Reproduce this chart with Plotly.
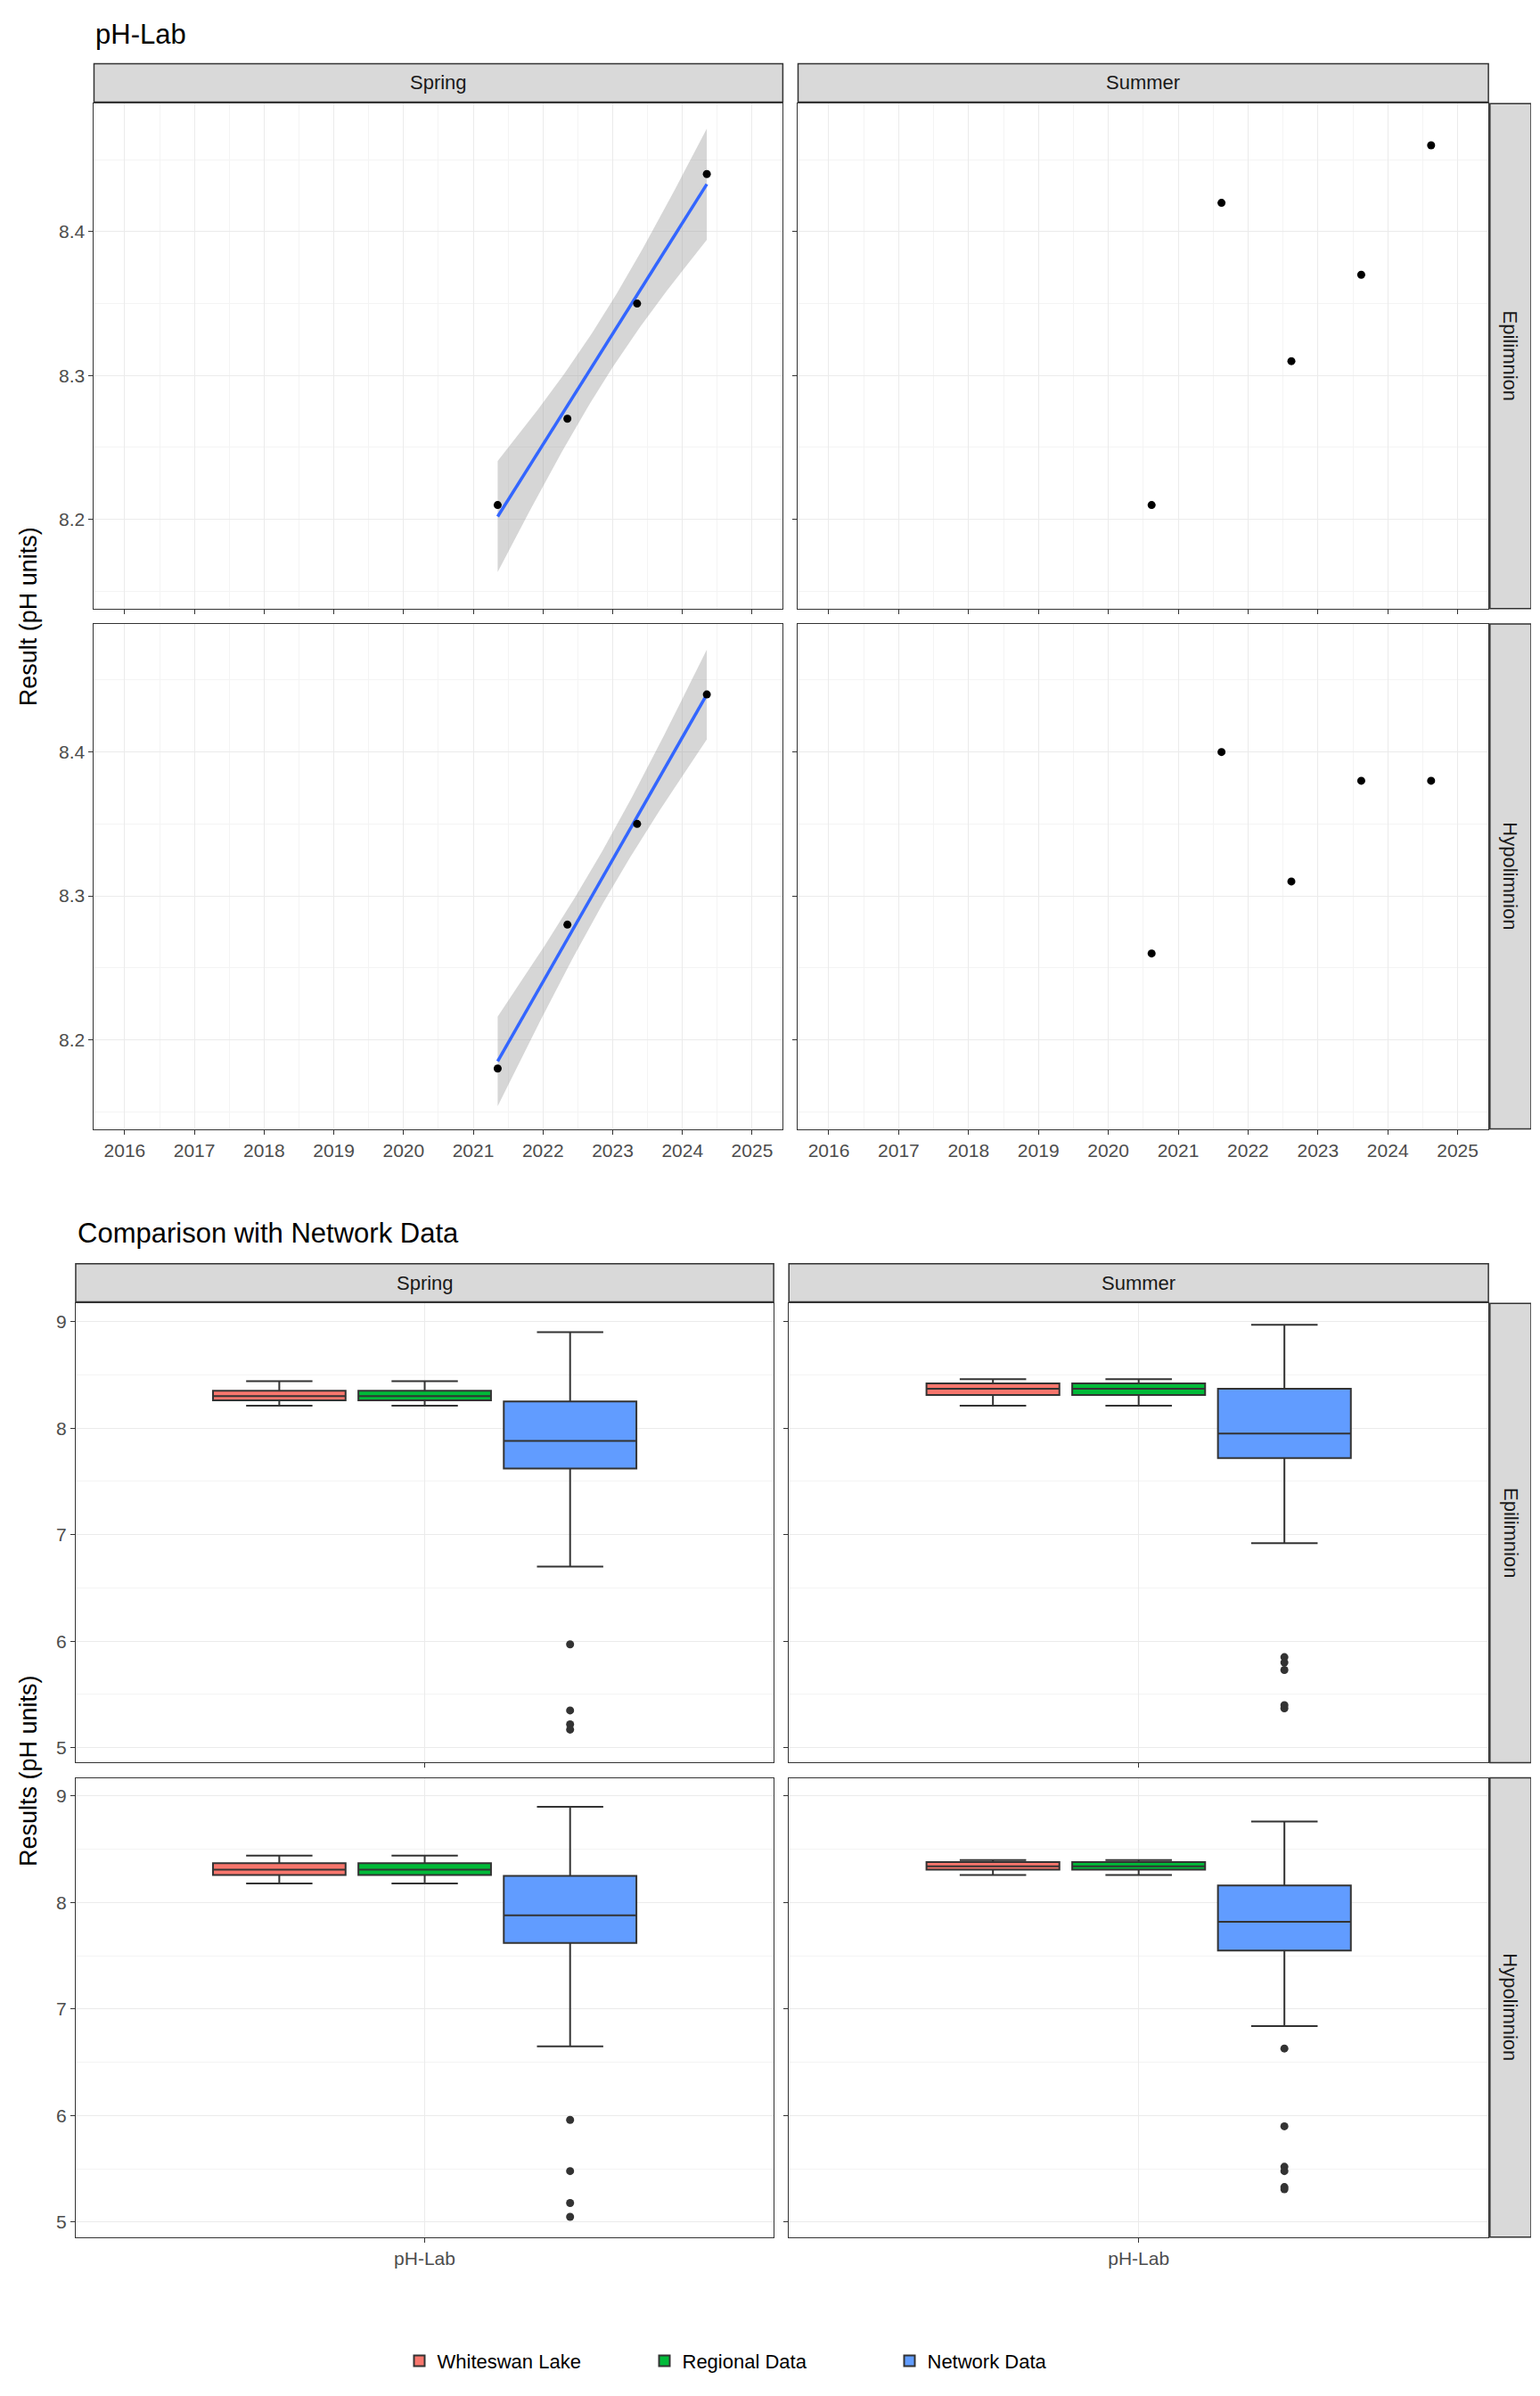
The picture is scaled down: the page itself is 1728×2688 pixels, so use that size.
import numpy as np
import plotly.graph_objects as go

# ---------------- data ----------------
spring_years = [2021.35, 2022.35, 2023.35, 2024.35]
summer_years = [2020.62, 2021.62, 2022.62, 2023.62, 2024.62]
spring_epi = [8.21, 8.27, 8.35, 8.44]
spring_hypo = [8.18, 8.28, 8.35, 8.44]
summer_epi = [8.21, 8.42, 8.31, 8.37, 8.46]
summer_hypo = [8.26, 8.40, 8.31, 8.38, 8.38]
year_ticks = list(range(2016, 2026))

groups = ["Whiteswan Lake", "Regional Data", "Network Data"]
group_colors = ["#F8766D", "#00BA38", "#619CFF"]
# box stats per panel: [lowerfence, q1, median, q3, upperfence] for each group
box_spring_epi = [[8.21, 8.26, 8.30, 8.35, 8.44], [8.21, 8.26, 8.30, 8.35, 8.44], [6.70, 7.62, 7.88, 8.25, 8.90]]
box_summer_epi = [[8.21, 8.31, 8.37, 8.42, 8.46], [8.21, 8.31, 8.37, 8.42, 8.46], [6.92, 7.72, 7.95, 8.37, 8.97]]
box_spring_hypo = [[8.18, 8.26, 8.31, 8.37, 8.44], [8.18, 8.26, 8.31, 8.37, 8.44], [6.65, 7.62, 7.88, 8.25, 8.90]]
box_summer_hypo = [[8.26, 8.31, 8.34, 8.38, 8.40], [8.26, 8.31, 8.34, 8.38, 8.40], [6.84, 7.55, 7.82, 8.16, 8.76]]
out_spring_epi = [5.97, 5.35, 5.22, 5.17]
out_summer_epi = [5.85, 5.80, 5.73, 5.40, 5.37]
out_spring_hypo = [5.96, 5.48, 5.18, 5.05]
out_summer_hypo = [6.63, 5.90, 5.52, 5.48, 5.33, 5.31]

T975_DF2 = 4.303

W, H = 1000.0, 1555.0
def xd(a, b): return [a / W, b / W]
def yd(a, b): return [1 - b / H, 1 - a / H]

fig = go.Figure()
FONT = "Liberation Sans, Arial, sans-serif"
GRID = "#EBEBEB"
LINE = "#333333"

# ---- top panels ----
top_cols = [(57, 509), (519, 972)]
top_rows = [(63, 393), (403, 733)]
top_data = [[(spring_years, spring_epi, True), (summer_years, summer_epi, False)],
            [(spring_years, spring_hypo, True), (summer_years, summer_hypo, False)]]
ax = 0
for r, (ya, yb) in enumerate(top_rows):
    for c, (xa, xb) in enumerate(top_cols):
        ax += 1
        xs, ys, fit = top_data[r][c]
        xn, yn = f"x{ax}", f"y{ax}"
        if fit:
            x = np.array(xs); y = np.array(ys)
            b, a = np.polyfit(x, y, 1)
            n = len(x); res = y - (a + b * x)
            s = np.sqrt((res ** 2).sum() / (n - 2))
            xg = np.linspace(x.min(), x.max(), 80)
            se = s * np.sqrt(1 / n + (xg - x.mean()) ** 2 / ((x - x.mean()) ** 2).sum())
            yf = a + b * xg
            fig.add_trace(go.Scatter(x=np.concatenate([xg, xg[::-1]]),
                                     y=np.concatenate([yf + T975_DF2 * se, (yf - T975_DF2 * se)[::-1]]),
                                     fill="toself", fillcolor="rgba(153,153,153,0.4)", line=dict(width=0),
                                     showlegend=False, hoverinfo="skip", xaxis=xn, yaxis=yn))
            fig.add_trace(go.Scatter(x=xg, y=yf, mode="lines", line=dict(color="#3366FF", width=3.5),
                                     showlegend=False, xaxis=xn, yaxis=yn))
        fig.add_trace(go.Scatter(x=xs, y=ys, mode="markers", marker=dict(color="black", size=9),
                                 showlegend=False, xaxis=xn, yaxis=yn))
        fig.layout[f"xaxis{ax}"] = dict(domain=xd(xa, xb), anchor=yn, range=[2015.56, 2025.44],
                                        tickvals=year_ticks, showticklabels=(r == 1),
                                        showgrid=True, gridcolor=GRID, minor=dict(dtick=0.5, showgrid=True, gridcolor="#F4F4F4"),
                                        showline=True, mirror=True, linecolor=LINE, ticks="outside", ticklen=5,
                                        tickcolor=LINE, zeroline=False, tickfont=dict(size=21, color="#4D4D4D"))
        fig.layout[f"yaxis{ax}"] = dict(domain=yd(ya, yb), anchor=xn, range=[8.138, 8.489],
                                        tickvals=[8.2, 8.3, 8.4], ticktext=["8.2", "8.3", "8.4"], showticklabels=(c == 0),
                                        showgrid=True, gridcolor=GRID, minor=dict(tickvals=[8.15, 8.25, 8.35, 8.45], showgrid=True, gridcolor="#F4F4F4"),
                                        showline=True, mirror=True, linecolor=LINE, ticks="outside", ticklen=5,
                                        tickcolor=LINE, zeroline=False, tickfont=dict(size=21, color="#4D4D4D"))

# ---- bottom panels ----
bot_cols = [(45, 503), (513, 972)]
bot_rows = [(847, 1147), (1157, 1457)]
bot_stats = [[(box_spring_epi, out_spring_epi), (box_summer_epi, out_summer_epi)],
             [(box_spring_hypo, out_spring_hypo), (box_summer_hypo, out_summer_hypo)]]
offsets = [-0.25, 0.0, 0.25]
for r, (ya, yb) in enumerate(bot_rows):
    for c, (xa, xb) in enumerate(bot_cols):
        ax += 1
        xn, yn = f"x{ax}", f"y{ax}"
        stats, outs = bot_stats[r][c]
        for g in range(3):
            lo, q1, md, q3, hi = stats[g]
            fig.add_trace(go.Box(x=[offsets[g]], q1=[q1], median=[md], q3=[q3], lowerfence=[lo], upperfence=[hi],
                                 width=0.228, fillcolor=group_colors[g], line=dict(color=LINE, width=2),
                                 name=groups[g], legendgroup=groups[g], showlegend=(ax == 5),
                                 boxpoints=False, xaxis=xn, yaxis=yn))
        fig.add_trace(go.Scatter(x=[offsets[2]] * len(outs), y=outs, mode="markers",
                                 marker=dict(color=LINE, size=9), showlegend=False, xaxis=xn, yaxis=yn))
        fig.layout[f"xaxis{ax}"] = dict(domain=xd(xa, xb), anchor=yn, range=[-0.6, 0.6],
                                        tickvals=[0], ticktext=["pH-Lab"], showticklabels=(r == 1),
                                        showgrid=True, gridcolor=GRID, showline=True, mirror=True, linecolor=LINE,
                                        ticks="outside", ticklen=5, tickcolor=LINE, zeroline=False,
                                        tickfont=dict(size=21, color="#4D4D4D"))
        fig.layout[f"yaxis{ax}"] = dict(domain=yd(ya, yb), anchor=xn, range=[4.86, 9.17],
                                        tickvals=[5, 6, 7, 8, 9], showticklabels=(c == 0),
                                        showgrid=True, gridcolor=GRID, minor=dict(tickvals=[5.5, 6.5, 7.5, 8.5], showgrid=True, gridcolor="#F4F4F4"),
                                        showline=True, mirror=True, linecolor=LINE, ticks="outside", ticklen=5,
                                        tickcolor=LINE, zeroline=False, tickfont=dict(size=21, color="#4D4D4D"))

# ---- strips ----
shapes, anns = [], []
def strip(x0, x1, y0, y1, text, angle=0):
    shapes.append(dict(type="rect", xref="paper", yref="paper", x0=x0 / W, x1=x1 / W, y0=1 - y1 / H, y1=1 - y0 / H,
                       fillcolor="#D9D9D9", line=dict(color=LINE, width=1.5), layer="below"))
    anns.append(dict(xref="paper", yref="paper", x=(x0 + x1) / 2 / W, y=1 - (y0 + y1) / 2 / H, text=text,
                     xanchor="center", yanchor="middle",
                     showarrow=False, textangle=angle, font=dict(size=22, color="#1A1A1A", family=FONT)))

for (xa, xb), t in zip(top_cols, ["Spring", "Summer"]):
    strip(xa, xb, 37, 62, t)
for (ya, yb), t in zip(top_rows, ["Epilimnion", "Hypolimnion"]):
    strip(973, 1000, ya, yb, t, 90)
for (xa, xb), t in zip(bot_cols, ["Spring", "Summer"]):
    strip(xa, xb, 821, 846, t)
for (ya, yb), t in zip(bot_rows, ["Epilimnion", "Hypolimnion"]):
    strip(973, 1000, ya, yb, t, 90)

anns.append(dict(xref="paper", yref="paper", x=57 / W, y=1 - 18 / H, text="pH-Lab", showarrow=False,
                 xanchor="left", yanchor="middle", font=dict(size=31, color="black", family=FONT)))
anns.append(dict(xref="paper", yref="paper", x=45 / W, y=1 - 801 / H, text="Comparison with Network Data",
                 showarrow=False, xanchor="left", yanchor="middle", font=dict(size=31, color="black", family=FONT)))
anns.append(dict(xref="paper", yref="paper", x=14 / W, y=1 - 398 / H, text="Result (pH units)", showarrow=False,
                 textangle=-90, xanchor="center", yanchor="middle", font=dict(size=27, color="black", family=FONT)))
anns.append(dict(xref="paper", yref="paper", x=14 / W, y=1 - 1152 / H, text="Results (pH units)", showarrow=False,
                 textangle=-90, xanchor="center", yanchor="middle", font=dict(size=27, color="black", family=FONT)))

fig.update_layout(width=1710, height=2670, margin=dict(l=0, r=0, t=0, b=0), plot_bgcolor="white",
                  paper_bgcolor="white", shapes=shapes, annotations=anns, font=dict(family=FONT),
                  legend=dict(orientation="h", x=0.5, xanchor="center", y=1 - 1538 / H, yanchor="middle",
                              entrywidth=230, font=dict(size=22, color="black")))
fig.write_html("out.html")
